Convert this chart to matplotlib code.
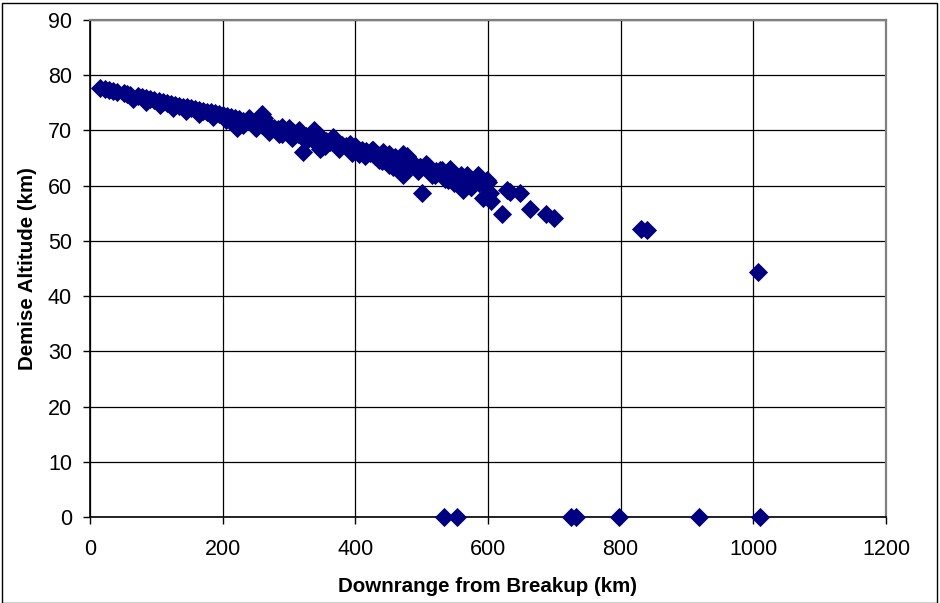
import matplotlib
matplotlib.use("Agg")
import matplotlib.pyplot as plt
from matplotlib.patches import Rectangle

# Main band of fragments: downrange (km) and demise altitude (km)
downrange_main = [15, 22, 28, 34, 40, 52, 56, 60, 72, 78, 84, 90, 96, 104, 110, 116,
                  122, 128, 134, 140, 146, 152, 158, 164, 170, 176, 182, 188, 194, 200,
                  206, 212, 218, 224, 230, 236, 242, 248, 254, 260, 266, 272, 278, 284,
                  290, 296, 302, 308, 314, 320, 326, 332, 338, 344, 350, 356, 362, 368,
                  374, 380, 386, 392, 398, 404, 410, 416, 422, 428, 434, 440, 446, 452,
                  458, 464, 470, 476, 482, 490, 498, 506, 514, 522, 530, 538, 546, 554,
                  562, 570, 578, 586, 594]
altitude_main = [77.7, 77.5, 77.3, 77.1, 77.0, 76.8, 76.6, 76.5, 76.2, 76.0, 75.9, 75.7,
                 75.6, 75.3, 75.1, 75.0, 74.8, 74.6, 74.5, 74.3, 74.2, 74.0, 73.9, 73.7,
                 73.6, 73.4, 73.3, 73.1, 73.0, 72.8, 72.6, 72.4, 72.2, 72.0, 71.8, 71.7,
                 71.5, 71.3, 71.1, 71.0, 70.8, 70.6, 70.4, 70.2, 70.1, 69.9, 69.7, 69.5,
                 69.4, 69.2, 69.0, 68.8, 68.7, 68.5, 68.3, 68.1, 67.9, 67.7, 67.5, 67.3,
                 67.1, 66.9, 66.7, 66.5, 66.4, 66.2, 66.0, 65.8, 65.6, 65.4, 65.2, 65.0,
                 64.8, 64.6, 64.4, 64.2, 64.0, 63.7, 63.4, 63.2, 62.9, 62.6, 62.3, 62.0,
                 61.8, 61.5, 61.2, 60.9, 60.6, 60.4, 60.1]

# Lower and upper edges of the band
downrange_lower = [65, 85, 105, 125, 145, 165, 185, 205, 215,
                   230, 250, 270, 285, 305, 325, 340, 355, 375, 395, 415, 435, 455,
                   475, 495, 515, 535, 555, 575]
altitude_lower = [75.7, 75.2, 74.6, 74.0, 73.5, 73.0, 72.5, 71.9, 71.6,
                  70.9, 70.4, 69.8, 69.3, 68.7, 68.1, 67.7, 67.2, 66.6, 65.9, 65.3,
                  64.7, 64.0, 63.4, 62.6, 62.0, 61.2, 60.6, 59.8]
downrange_upper = [240, 265, 290, 315, 345, 370, 400, 425, 450, 470, 510, 530, 560,
                   580, 600]
altitude_upper = [72.2, 71.4, 70.7, 70.0, 69.1, 68.3, 67.2, 66.5, 65.7, 65.0, 63.6,
                  62.9, 61.9, 61.2, 60.6]

# Scattered fragments around / below the main band
downrange_spread = [221, 259, 262, 248, 290, 300, 321, 337, 345, 347, 350, 366, 392,
                    405, 427, 430, 440, 442, 447, 450, 457, 460, 472, 472, 478, 480,
                    497, 500, 507, 520, 528, 540, 543, 548, 553, 560, 562, 568, 575,
                    585, 590, 593, 598, 603, 605, 621, 628, 633, 648, 663, 688, 700,
                    831, 839, 1007]
altitude_spread = [70.4, 73.0, 72.2, 70.6, 69.3, 70.4, 66.1, 70.0, 67.3, 66.7, 67.0,
                   68.8, 67.6, 65.8, 66.4, 65.3, 64.5, 66.1, 64.6, 63.8, 63.4, 65.2,
                   61.9, 65.8, 65.4, 64.3, 63.4, 58.6, 64.0, 62.0, 62.8, 61.0, 63.1,
                   60.4, 61.6, 60.2, 59.2, 61.9, 59.8, 61.9, 60.8, 57.7, 61.0, 58.6,
                   57.3, 54.9, 59.2, 58.8, 58.6, 55.8, 54.8, 54.2, 52.2, 51.9, 44.3]

# Fragments surviving to the ground
downrange_ground = [533, 553, 725, 732, 797, 918, 1010]
altitude_ground = [0, 0, 0, 0, 0, 0, 0]

x_ticks = [0, 200, 400, 600, 800, 1000, 1200]
y_ticks = [0, 10, 20, 30, 40, 50, 60, 70, 80, 90]

plt.rcParams['font.family'] = ['Liberation Sans', 'DejaVu Sans']

fig = plt.figure(figsize=(9.4, 6.03), dpi=100)
ax = fig.add_axes([90 / 940, 1 - 517 / 603, (886 - 90) / 940, (517 - 20) / 603])

navy = '#000080'
for xs, ys in [(downrange_main, altitude_main),
               (downrange_lower, altitude_lower),
               (downrange_upper, altitude_upper),
               (downrange_spread, altitude_spread),
               (downrange_ground, altitude_ground)]:
    ax.plot(xs, ys, linestyle='none', marker='D', markersize=9.2,
            markerfacecolor=navy, markeredgecolor=navy, markeredgewidth=0.6,
            clip_on=False, zorder=3)

ax.set_xlim(0, 1200)
ax.set_ylim(0, 90)
ax.set_xticks(x_ticks)
ax.set_yticks(y_ticks)
ax.grid(True, color='#000000', linewidth=0.9, zorder=0)
ax.set_axisbelow(True)

for side in ['left', 'bottom']:
    ax.spines[side].set_color('#000000')
    ax.spines[side].set_linewidth(1.2)
for side in ['right', 'top']:
    ax.spines[side].set_color('#808080')
    ax.spines[side].set_linewidth(1.6)

ax.tick_params(axis='both', direction='out', length=5, width=1, colors='#000000',
               labelsize=15.5)
ax.tick_params(axis='x', pad=11)
ax.tick_params(axis='y', pad=8)

ax.set_xlabel('Downrange from Breakup (km)', fontsize=14.8, fontweight='bold', labelpad=12)
ax.set_ylabel('Demise Altitude (km)', fontsize=14.8, fontweight='bold', labelpad=8)

fig.patches.append(Rectangle((1.5 / 940, 0.0), (937 - 1.5) / 940, 1 - 3 / 603,
                             transform=fig.transFigure, fill=False,
                             edgecolor='#000000', linewidth=1.0))

fig.savefig('out.png', dpi=100)
